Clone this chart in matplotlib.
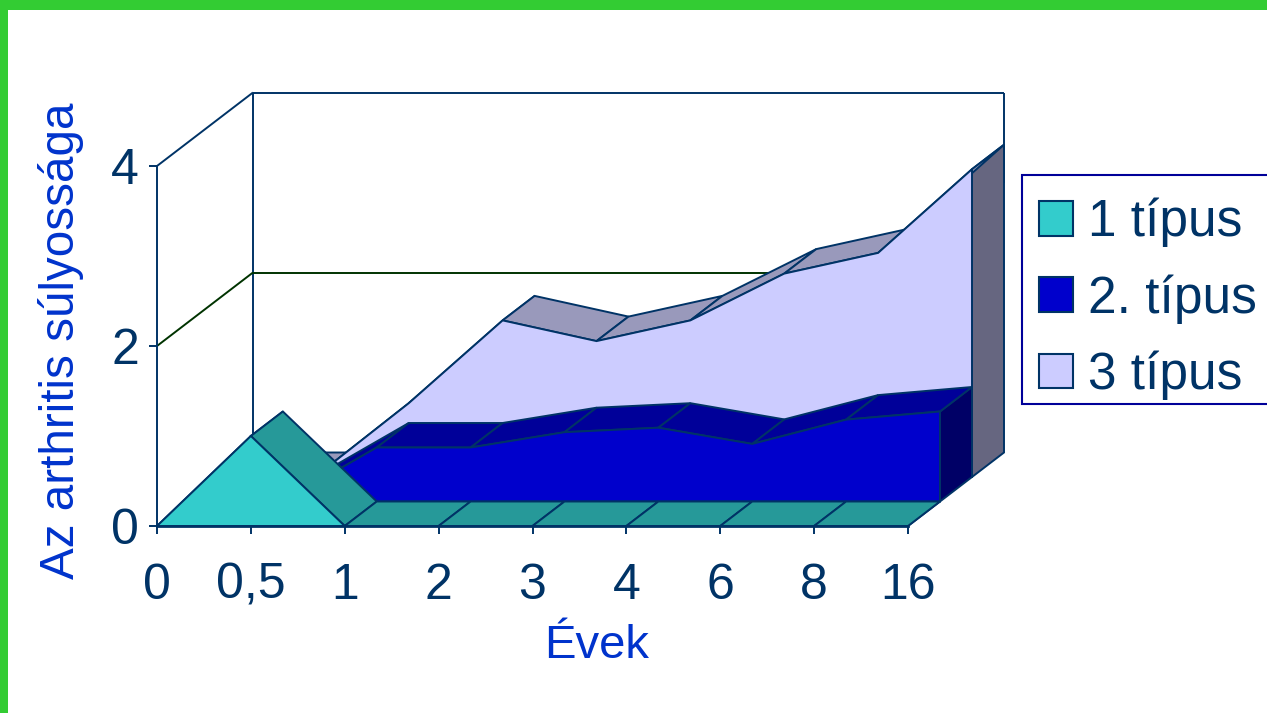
"""3D style area chart of arthritis severity by years, drawn on a plain 2D axes."""

import matplotlib
matplotlib.use("Agg")
import matplotlib.pyplot as plt
import numpy as np
from matplotlib.patches import Patch, Polygon, Rectangle
from matplotlib.transforms import IdentityTransform

plt.rcParams["font.family"] = ["Liberation Sans", "DejaVu Sans"]

# data
years = ["0", "0,5", "1", "2", "3", "4", "6", "8", "16"]
type1 = [0, 1.0, 0, 0, 0, 0, 0, 0, 0]
type2 = [0, 0, 0.6, 0.6, 0.77, 0.82, 0.64, 0.91, 1.0]
type3 = [0, 0, 0.82, 1.74, 1.51, 1.74, 2.26, 2.49, 3.42]
labels = ["1 típus", "2. típus", "3 típus"]
y_ticks = [0, 2, 4]

EDGE = "#003366"
GRID = "#003300"
# front, top, side colour of each series
colors1 = ("#33CCCC", "#269999", "#1A6666")
colors2 = ("#0000CC", "#000099", "#000066")
colors3 = ("#CCCCFF", "#9999BB", "#666680")

# screen offset in pixels for one series of depth
DEPTH_DX = 32
DEPTH_DY = 24.5

W, H = 1267, 713
fig = plt.figure(figsize=(W / 100, H / 100), dpi=100, facecolor="white")
ax = fig.add_axes([157 / W, (H - 526) / H, 751 / W, 360 / H])
ax.patch.set_visible(False)
ax.set_xlim(0, len(years) - 1)
ax.set_ylim(0, 4)


def project(x, y, depth):
    """Data coordinates plus depth to display pixels."""
    pts = ax.transData.transform(np.column_stack([x, y]).astype(float))
    return pts + np.array([DEPTH_DX * depth, DEPTH_DY * depth])


def shape(pts, face="none", edge=EDGE, closed=True, lw=1.4):
    ax.add_patch(Polygon(pts, closed=closed, facecolor=face, edgecolor=edge, linewidth=lw,
                         transform=IdentityTransform(), clip_on=False, joinstyle="miter",
                         capstyle="butt"))


def draw_area(values, depth, colors):
    """Side, top faces and front of one series, back to front."""
    front, top, side = colors
    x = np.arange(len(values))
    y = np.array(values, dtype=float)
    f = project(x, y, depth)
    b = project(x, y, depth + 1)
    fb = project(x, np.zeros(len(x)), depth)
    bb = project(x, np.zeros(len(x)), depth + 1)
    shape([fb[-1], bb[-1], b[-1], f[-1]], face=side)
    for i in range(len(x) - 1):
        shape([f[i], f[i + 1], b[i + 1], b[i]], face=top)
    shape(np.vstack([f, fb[::-1]]), face=front)


# walls and gridlines
top_y = np.array([4, 4])
ends = np.array([0, len(years) - 1])
shape(np.vstack([project([0], [0], 3), project([0], [4], 3)]), closed=False)
shape(project(ends, top_y, 3), closed=False)
shape(np.vstack([project([ends[1]], [4], 3), project([ends[1]], [3], 3)]), closed=False)
for tick in y_ticks[1:]:
    color = EDGE if tick == 4 else GRID
    shape(np.vstack([project([0], [tick], 0), project([0], [tick], 3)]), edge=color, closed=False)
shape(project(np.array([0, 7]), [2, 2], 3), edge=GRID, closed=False)

draw_area(type3, 2, colors3)
draw_area(type2, 1, colors2)
draw_area(type1, 0, colors1)

for name in ("top", "right"):
    ax.spines[name].set_visible(False)
for name in ("left", "bottom"):
    ax.spines[name].set_color(EDGE)
ax.spines["left"].set_linewidth(1.4)
ax.spines["bottom"].set_linewidth(2.0)

ax.set_xticks(np.arange(len(years)), years)
ax.set_yticks(y_ticks)
ax.tick_params(axis="x", colors=EDGE, labelsize=36, length=5.5, width=1.4, pad=21)
ax.tick_params(axis="y", colors=EDGE, labelsize=36, length=5.5, width=1.4, pad=7.5)

ax.set_ylabel("Az arthritis súlyossága", fontsize=34.3, color="#0033CC")
ax.yaxis.set_label_coords((84 - 157) / 751, (526 - 341) / 360)
ax.set_xlabel("Évek", fontsize=34, color="#0033CC")
ax.xaxis.set_label_coords((597 - 157) / 751, -(624 - 526) / 360)

# legend frame runs off the right edge of the slide
fig.add_artist(Rectangle((1022 / W, (H - 404) / H), 300 / W, 229 / H, transform=fig.transFigure,
                         facecolor="white", edgecolor="#000099", linewidth=1.5, zorder=-1))

handles = [Patch(facecolor=c[0], edgecolor=EDGE, linewidth=1.5) for c in (colors1, colors2, colors3)]
leg = ax.legend(handles, labels, loc="upper left", bbox_to_anchor=(1022 / W, (H - 181) / H),
                bbox_transform=fig.transFigure, fontsize=37, frameon=False,
                borderaxespad=0, borderpad=0.33,
                handlelength=0.66, handleheight=0.66, handletextpad=0.3, labelspacing=0.52,
                labelcolor=EDGE)

# green slide border
fig.add_artist(Rectangle((0, (H - 10) / H), 1, 10 / H, transform=fig.transFigure, color="#33CC33", lw=0))
fig.add_artist(Rectangle((0, 0), 8 / W, 1, transform=fig.transFigure, color="#33CC33", lw=0))

fig.savefig("out.png", dpi=100)
